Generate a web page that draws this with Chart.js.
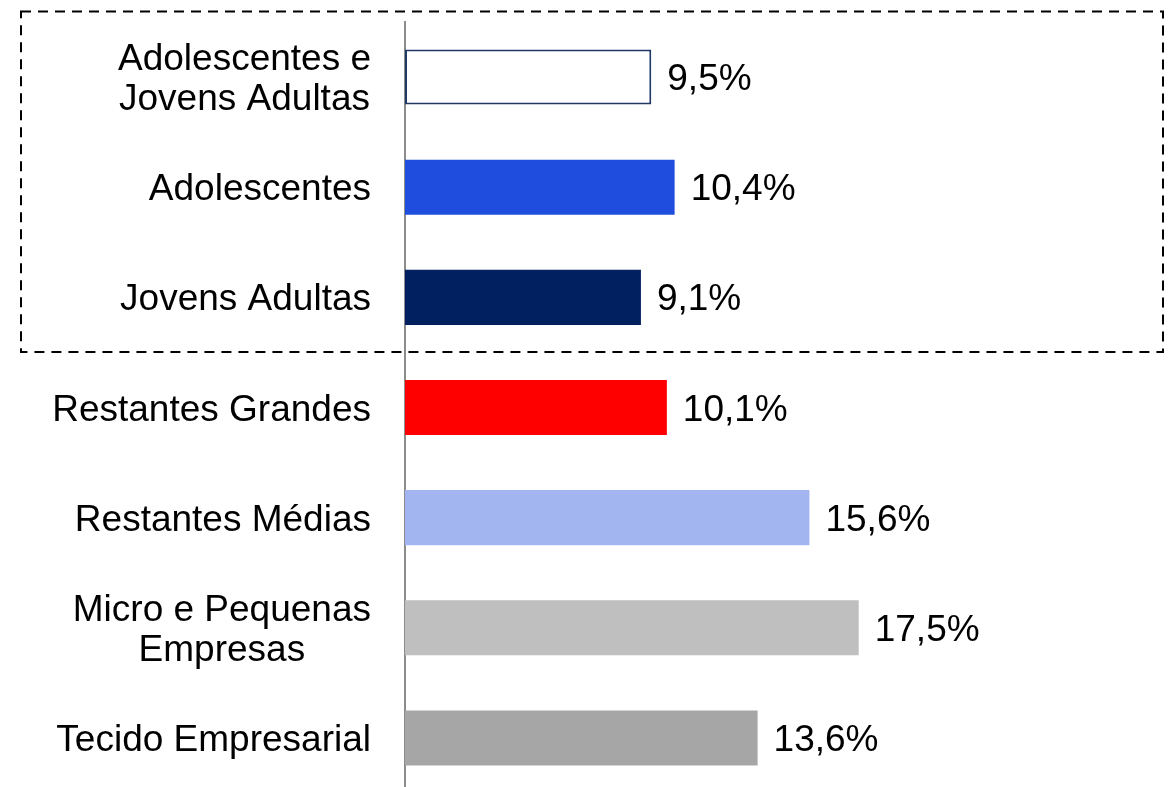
<!DOCTYPE html>
<html>
<head>
<meta charset="utf-8">
<script src="https://cdn.jsdelivr.net/npm/chart.js@4"></script>
<style>
  html, body { margin: 0; padding: 0; background: #fff; overflow: hidden; }
  #wrap { width: 1175px; height: 793px; position: relative; }
</style>
</head>
<body>
<div id="wrap"><canvas id="c"></canvas></div>
<script>
const categories = [
  ["Adolescentes e", "Jovens Adultas"],
  "Adolescentes",
  "Jovens Adultas",
  "Restantes Grandes",
  "Restantes Médias",
  ["Micro e Pequenas", "Empresas"],
  "Tecido Empresarial"
];
const values = [9.5, 10.4, 9.1, 10.1, 15.6, 17.5, 13.6];
const fillColors = ["#FFFFFF", "#1F4EDF", "#002060", "#FF0000", "#A2B5F0", "#BFBFBF", "#A6A6A6"];
const borderColors = ["#1F3864", "#1F4EDF", "#002060", "#FF0000", "#A2B5F0", "#BFBFBF", "#A6A6A6"];
const borderWidths = [2, 0, 0, 0, 0, 0, 0];
const highlightedCount = 3;

const FONT = "'Liberation Sans', Arial, sans-serif";
const FONT_SIZE = 37;

// Category labels: block right-aligned to the axis, lines centred within the block
const categoryLabels = {
  id: 'categoryLabels',
  afterDraw(chart) {
    const ctx = chart.ctx;
    const y = chart.scales.y;
    const rightX = chart.chartArea.left - 34;
    const lineH = 40;
    ctx.save();
    ctx.font = FONT_SIZE + "px " + FONT;
    ctx.fillStyle = "#000";
    ctx.textAlign = "center";
    ctx.textBaseline = "alphabetic";
    categories.forEach((lab, i) => {
      const lines = Array.isArray(lab) ? lab : [lab];
      const w = Math.max(...lines.map(l => ctx.measureText(l).width));
      const cx = rightX - w / 2;
      const cy = y.getPixelForValue(i);
      const first = cy - (lines.length - 1) * lineH / 2 + 13;
      lines.forEach((l, k) => ctx.fillText(l, cx, first + k * lineH));
    });
    ctx.restore();
  }
};

const valueLabels = {
  id: 'valueLabels',
  afterDatasetsDraw(chart) {
    const ctx = chart.ctx;
    const meta = chart.getDatasetMeta(0);
    ctx.save();
    ctx.font = FONT_SIZE + "px " + FONT;
    ctx.fillStyle = "#000";
    ctx.textAlign = "left";
    ctx.textBaseline = "alphabetic";
    meta.data.forEach((bar, i) => {
      const txt = values[i].toFixed(1).replace('.', ',') + '%';
      ctx.fillText(txt, bar.x + 16, bar.y + 13);
    });
    ctx.restore();
  }
};

const dashedBox = {
  id: 'dashedBox',
  afterDraw(chart) {
    const ctx = chart.ctx;
    const y = chart.scales.y;
    const area = chart.chartArea;
    const top = area.top - 10.5;
    const bottom = (y.getPixelForValue(highlightedCount - 1) + y.getPixelForValue(highlightedCount)) / 2 - 0.5;
    const left = 21;
    const right = 1163;
    ctx.save();
    ctx.strokeStyle = "#000";
    ctx.lineWidth = 2;
    ctx.setLineDash([10, 7]);
    ctx.strokeRect(left, top, right - left, bottom - top);
    ctx.restore();
  }
};

new Chart(document.getElementById('c'), {
  type: 'bar',
  data: {
    labels: categories,
    datasets: [{
      data: values,
      backgroundColor: fillColors,
      borderColor: borderColors,
      borderWidth: borderWidths,
      borderSkipped: false,
      categoryPercentage: 1.0,
      barPercentage: 0.5
    }]
  },
  options: {
    indexAxis: 'y',
    responsive: true,
    maintainAspectRatio: false,
    animation: false,
    layout: { padding: { top: 22, left: 0, right: 0, bottom: 0 } },
    plugins: {
      legend: { display: false },
      tooltip: { enabled: false },
      title: { display: false }
    },
    scales: {
      x: {
        display: false,
        min: 0,
        max: 29.7
      },
      y: {
        grid: { display: false },
        border: { display: true, color: '#8C8C8C', width: 2 },
        ticks: { display: false },
        afterFit(scale) {
          scale.width = 405;
          scale.paddingTop = 0;
          scale.paddingBottom = 0;
        }
      }
    }
  },
  plugins: [valueLabels, categoryLabels, dashedBox]
});
</script>
</body>
</html>
